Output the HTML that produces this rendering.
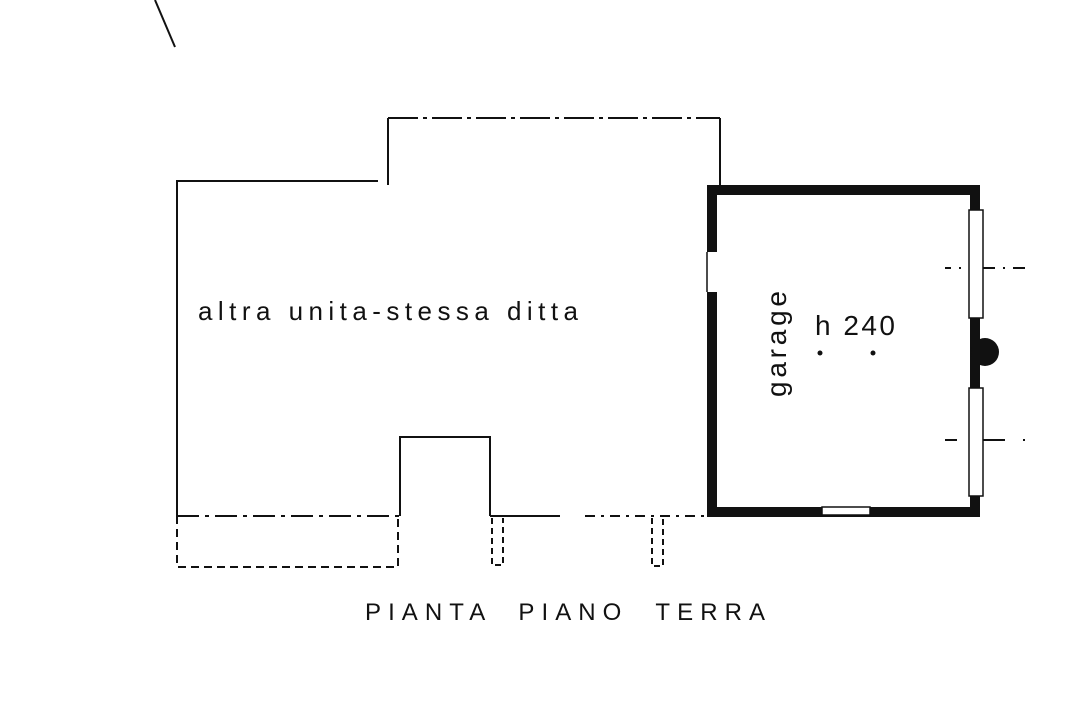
<!DOCTYPE html>
<html><head><style>body{margin:0;background:#fff}svg{display:block}</style></head><body>
<svg width="1087" height="727" viewBox="0 0 1087 727" xmlns="http://www.w3.org/2000/svg">
<rect width="1087" height="727" fill="#fff"/>
<g stroke="#111" fill="none" stroke-width="2">
<line x1="155" y1="0" x2="175" y2="47"/>
<polyline points="177,516 177,181 378,181"/>
<line x1="388" y1="185" x2="388" y2="118"/>
<line x1="388" y1="118" x2="720" y2="118" stroke-dasharray="30,5,4,5"/>
<line x1="720" y1="118" x2="720" y2="185"/>
<line x1="177" y1="516" x2="400" y2="516" stroke-dasharray="22,6,4,6"/>
<polyline points="400,516 400,437 490,437 490,516"/>
<line x1="490" y1="516" x2="560" y2="516"/>
<line x1="585" y1="516" x2="705" y2="516" stroke-dasharray="10,6,3,6"/>
<polyline points="177,516 177,567 398,567 398,516" stroke-dasharray="8,5"/>
<polyline points="492,518 492,565 503,565 503,518" stroke-dasharray="6,4"/>
<polyline points="652,518 652,566 663,566 663,518" stroke-dasharray="6,4"/>
<line x1="945" y1="268" x2="1025" y2="268" stroke-dasharray="6,8,2,8,20,0"/>
<line x1="945" y1="440" x2="1025" y2="440" stroke-dasharray="12,18,3,5,10,0"/>
</g>
<rect x="712" y="190" width="263" height="322" fill="none" stroke="#111" stroke-width="10"/>
<rect x="704" y="252" width="16" height="40" fill="#fff"/>
<line x1="707" y1="252" x2="707" y2="292" stroke="#111" stroke-width="1.5"/>
<rect x="969" y="210" width="14" height="108" fill="#fff" stroke="#111" stroke-width="1.5"/>
<rect x="969" y="388" width="14" height="108" fill="#fff" stroke="#111" stroke-width="1.5"/>
<rect x="822" y="507" width="48" height="8" fill="#fff" stroke="#111" stroke-width="1.5"/>
<circle cx="985" cy="352" r="14" fill="#111"/>
<circle cx="820" cy="353" r="2.5" fill="#111"/>
<circle cx="873" cy="353" r="2.5" fill="#111"/>
<g font-family="Liberation Sans, sans-serif" fill="#111">
<text x="198" y="320" font-size="26" textLength="380" lengthAdjust="spacing">altra unita-stessa ditta</text>
<text x="365" y="620" font-size="24" textLength="400" lengthAdjust="spacing" xml:space="preserve">PIANTA  PIANO  TERRA</text>
<text x="815" y="335" font-size="28" textLength="80" lengthAdjust="spacing">h 240</text>
<text transform="translate(786,344) rotate(-90)" text-anchor="middle" font-size="28" textLength="106" lengthAdjust="spacing">garage</text>
</g>
</svg>
</body></html>
